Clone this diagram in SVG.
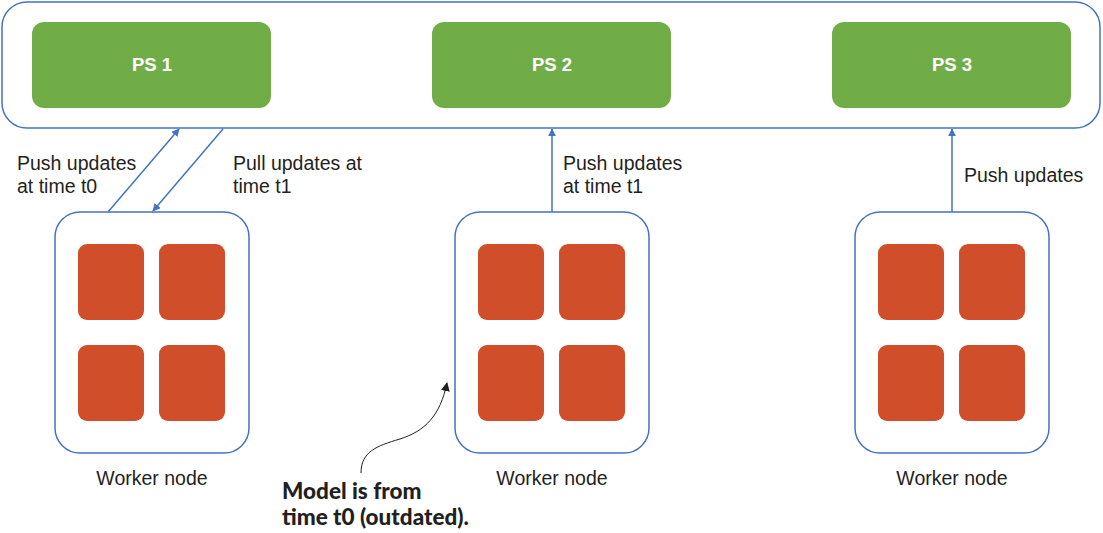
<svg xmlns="http://www.w3.org/2000/svg" width="1103" height="533" viewBox="0 0 1103 533">
<style>
.frame{fill:#fff;stroke:#4472c4;stroke-width:1.5}
.ps{fill:#70ad47}
.pst{font-family:"Liberation Sans",Arial,sans-serif;font-weight:bold;font-size:18.5px;fill:#fff;text-anchor:middle}
.core{fill:#d04e29}
.lbl{font-family:"Liberation Sans",Arial,sans-serif;font-size:19.5px;fill:#231f20}
.ctr{text-anchor:middle}
.conn{stroke:#4472c4;stroke-width:1.5;fill:none}
.note{font-family:Lato,"Noto Sans",sans-serif;font-weight:900;font-size:22.5px;fill:#231f20}
</style>
<defs>
<marker id="ab" viewBox="0 0 10 10" refX="9" refY="5" markerWidth="8" markerHeight="8" markerUnits="userSpaceOnUse" orient="auto"><path d="M0,0 L10,5 L0,10 z" fill="#4472c4"/></marker>
<marker id="ak" viewBox="0 0 10 10" refX="9" refY="5" markerWidth="9" markerHeight="9" markerUnits="userSpaceOnUse" orient="auto"><path d="M0,0 L10,5 L0,10 z" fill="#231f20"/></marker>
<g id="cores">
<rect class="core" x="0" y="0" width="66" height="76" rx="9"/>
<rect class="core" x="81" y="0" width="66" height="76" rx="9"/>
<rect class="core" x="0" y="101" width="66" height="76" rx="9"/>
<rect class="core" x="81" y="101" width="66" height="76" rx="9"/>
</g>
</defs>
<g id="ps-cluster">
<rect class="frame" x="2" y="2" width="1098" height="126" rx="25"/>
</g>
<g id="ps1"><rect class="ps" x="32" y="22" width="239" height="86" rx="12"/><text class="pst" x="152" y="71">PS 1</text></g>
<g id="ps2"><rect class="ps" x="432" y="22" width="239" height="86" rx="12"/><text class="pst" x="552" y="71">PS 2</text></g>
<g id="ps3"><rect class="ps" x="832" y="22" width="239" height="86" rx="12"/><text class="pst" x="952" y="71">PS 3</text></g>
<g id="worker1">
<rect class="frame" x="55" y="212" width="194" height="241" rx="25"/>
<use href="#cores" x="78" y="244"/>
<text class="lbl ctr" x="152" y="485">Worker node</text>
</g>
<g id="worker2">
<rect class="frame" x="455" y="212" width="194" height="241" rx="25"/>
<use href="#cores" x="478" y="244"/>
<text class="lbl ctr" x="552" y="485">Worker node</text>
</g>
<g id="worker3">
<rect class="frame" x="855" y="212" width="194" height="241" rx="25"/>
<use href="#cores" x="878" y="244"/>
<text class="lbl ctr" x="952" y="485">Worker node</text>
</g>
<g id="connectors">
<line class="conn" x1="108" y1="212" x2="179" y2="129" marker-end="url(#ab)"/>
<line class="conn" x1="223" y1="129" x2="153" y2="211" marker-end="url(#ab)"/>
<line class="conn" x1="552" y1="212" x2="552" y2="129" marker-end="url(#ab)"/>
<line class="conn" x1="952" y1="212" x2="952" y2="129" marker-end="url(#ab)"/>
<path d="M361,473 C361,452 376,446 400,439 C425,431 440,416 447,383" fill="none" stroke="#231f20" stroke-width="1" marker-end="url(#ak)"/>
</g>
<g id="labels">
<text class="lbl" x="17" y="170">Push updates</text>
<text class="lbl" x="17" y="193">at time t0</text>
<text class="lbl" x="233" y="170">Pull updates at</text>
<text class="lbl" x="233" y="193">time t1</text>
<text class="lbl" x="563" y="170">Push updates</text>
<text class="lbl" x="563" y="193">at time t1</text>
<text class="lbl" x="964" y="182">Push updates</text>
<text class="note" x="282" y="499">Model is from</text>
<text class="note" x="282" y="525">time t0 (outdated).</text>
</g>
</svg>
